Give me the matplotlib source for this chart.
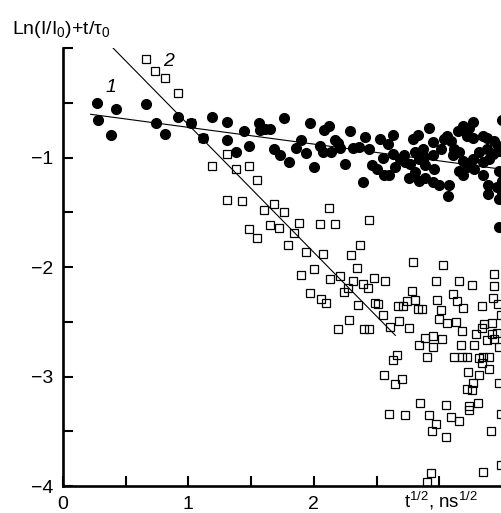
import numpy as np
import matplotlib
matplotlib.use('Agg')
import matplotlib.pyplot as plt

plt.rcParams['font.family'] = ['Liberation Sans', 'DejaVu Sans']
plt.rcParams['mathtext.fontset'] = 'custom'
plt.rcParams['mathtext.rm'] = 'Liberation Sans'
plt.rcParams['mathtext.it'] = 'Liberation Sans:italic'

# series 1: filled circles
x1 = [0.27, 0.42, 0.28, 0.38, 0.66, 0.74, 0.81, 0.92, 1.02, 1.12, 1.19, 1.31, 1.31, 1.44, 1.38, 1.48,
      1.56, 1.57, 1.61, 1.65, 1.76, 1.68, 1.73, 1.80, 1.86, 1.90, 1.94, 1.97, 2.00, 2.08, 2.12, 2.05,
      2.07, 2.14, 2.17, 2.21, 2.19, 2.29, 2.25, 2.31, 2.36, 2.39, 2.41, 2.44, 2.46, 2.50, 2.53, 2.55,
      2.56, 2.60, 2.59, 2.63, 2.63, 2.65, 2.69, 2.73, 2.77, 2.72, 2.79, 2.83, 2.81, 2.84, 2.87, 2.88,
      2.89, 2.92, 2.95, 2.95, 2.96, 2.76, 2.81, 2.84, 2.89, 2.95, 3.00, 3.08, 3.07, 3.01, 3.04, 3.06,
      3.09, 3.12, 3.11, 3.15, 3.19, 3.27, 3.24, 3.22, 3.27, 3.35, 3.38, 3.44, 3.47, 3.50, 3.16, 3.19,
      3.22, 3.16, 3.19, 3.27, 3.32, 3.38, 3.35, 3.40, 3.43, 3.48, 3.28, 3.35, 3.48, 3.50, 3.39, 3.46,
      3.39, 3.48, 3.48, 3.50]
y1 = [-0.50, -0.56, -0.66, -0.79, -0.51, -0.68, -0.78, -0.63, -0.68, -0.82, -0.63, -0.67, -0.84, -0.76,
      -0.95, -0.89, -0.68, -0.75, -0.74, -0.74, -0.64, -0.92, -0.98, -1.04, -0.91, -0.84, -0.96, -0.68,
      -1.09, -0.75, -0.71, -0.89, -0.95, -0.95, -0.84, -0.91, -0.87, -0.76, -1.06, -0.91, -0.90, -1.22,
      -0.81, -0.92, -1.07, -1.10, -0.83, -1.00, -1.16, -1.16, -0.88, -0.79, -0.97, -1.09, -1.01, -1.04,
      -1.06, -0.98, -0.83, -0.79, -0.95, -1.01, -0.92, -0.99, -1.07, -0.73, -0.86, -0.98, -1.10, -1.19,
      -1.13, -1.21, -1.19, -1.22, -1.25, -1.25, -1.35, -0.92, -0.83, -0.80, -0.85, -0.92, -0.98, -0.76,
      -0.71, -0.67, -0.73, -0.80, -0.82, -0.80, -0.82, -0.85, -0.89, -0.66, -0.95, -1.03, -1.09, -1.12,
      -1.16, -1.01, -0.95, -0.92, -1.04, -1.01, -0.97, -0.94, -1.10, -1.16, -1.12, -1.21, -1.25, -1.27,
      -1.33, -1.38, -1.63, -1.31]

# series 2: open squares
x2 = [0.66, 0.73, 0.81, 0.92, 1.02, 1.12, 1.31, 1.19, 1.38, 1.48, 1.55, 1.31, 1.43, 1.68, 1.60, 1.76,
      2.12, 1.48, 1.55, 1.65, 1.72, 1.88, 1.84, 1.79, 1.94, 2.07, 2.05, 2.00, 1.90, 2.13, 1.97, 2.06,
      2.10, 2.17, 2.44, 2.37, 2.30, 2.79, 3.03, 3.44, 2.21, 2.34, 2.31, 2.39, 2.43, 2.48, 2.57, 2.97,
      3.16, 3.26, 3.44, 2.24, 2.27, 2.35, 2.49, 2.51, 2.28, 2.19, 2.40, 2.44, 2.55, 2.61, 2.68, 2.76,
      2.78, 2.67, 2.71, 2.74, 2.81, 2.83, 2.86, 2.98, 3.01, 3.00, 3.11, 3.14, 3.19, 3.06, 3.13, 3.18,
      3.34, 3.43, 3.47, 3.49, 2.89, 2.84, 2.95, 2.95, 3.02, 2.90, 3.17, 3.28, 3.12, 3.18, 3.22, 3.36,
      3.29, 3.34, 3.42, 3.42, 3.46, 3.44, 3.48, 3.32, 3.34, 3.35, 3.40, 3.40, 3.48, 3.23, 3.32, 3.27,
      3.26, 3.22, 2.56, 2.65, 2.70, 2.85, 2.60, 2.73, 3.05, 2.92, 2.97, 2.94, 3.05, 3.09, 3.16, 3.24,
      3.31, 3.24, 3.49, 3.41, 3.35, 3.49, 2.93, 2.90, 2.66, 2.63, 3.38]
y2 = [-0.10, -0.21, -0.27, -0.41, -0.68, -0.82, -0.97, -1.08, -1.10, -1.08, -1.20, -1.39, -1.40, -1.42,
      -1.48, -1.50, -1.46, -1.65, -1.73, -1.62, -1.64, -1.60, -1.69, -1.80, -1.86, -1.88, -1.61, -2.02,
      -2.07, -2.11, -2.24, -2.29, -2.33, -1.61, -1.57, -1.80, -1.89, -1.95, -1.98, -2.06, -2.08, -2.01,
      -2.13, -2.15, -2.19, -2.10, -2.13, -2.13, -2.13, -2.16, -2.17, -2.23, -2.19, -2.35, -2.33, -2.34,
      -2.48, -2.57, -2.57, -2.57, -2.44, -2.55, -2.49, -2.56, -2.22, -2.36, -2.36, -2.31, -2.30, -2.38,
      -2.38, -2.30, -2.39, -2.47, -2.25, -2.31, -2.37, -2.51, -2.50, -2.58, -2.36, -2.28, -2.34, -2.44,
      -2.65, -2.71, -2.63, -2.73, -2.66, -2.82, -2.71, -2.71, -2.82, -2.82, -2.82, -2.52, -2.61, -2.56,
      -2.51, -2.61, -2.60, -2.66, -2.73, -2.83, -2.88, -2.82, -2.82, -2.93, -3.06, -2.96, -2.99, -3.06,
      -3.12, -3.11, -2.99, -3.07, -3.02, -3.24, -3.34, -3.35, -3.26, -3.35, -3.43, -3.50, -3.55, -3.37,
      -3.41, -3.27, -3.24, -3.31, -3.34, -3.50, -3.87, -3.81, -3.88, -3.96, -2.80, -2.85, -2.67]

# fitted lines (end points)
fit1_x = [0.22, 3.50]
fit1_y = [-0.604, -1.106]
fit2_x = [0.40, 2.65]
fit2_y = [0.00, -2.624]

xticks = [0, 0.5, 1, 1.5, 2, 2.5, 3, 3.5]
xticklabels = ['0', '', '1', '', '2', '', '', '']
yticks = [-4, -3.5, -3, -2.5, -2, -1.5, -1, -0.5, 0]
yticklabels = ['\u22124', '', '\u22123', '', '\u22122', '', '\u22121', '', '']

fig = plt.figure(figsize=(5.02, 5.13), dpi=100)
ax = fig.add_axes([0.1255, 0.0526, 0.8745, 0.8535])

ax.plot(x1, y1, 'o', color='black', markersize=7, zorder=2)
ax.plot(x2, y2, 's', markerfacecolor='none', markeredgecolor='black', markersize=6,
        markeredgewidth=0.9, zorder=3)
ax.plot(fit1_x, fit1_y, color='black', linewidth=0.8, zorder=4)
ax.plot(fit2_x, fit2_y, color='black', linewidth=0.8, zorder=4)

ax.text(0.38, -0.36, '1', fontsize=14, fontstyle='italic', ha='center', va='center')
ax.text(0.845, -0.125, '2', fontsize=14, fontstyle='italic', ha='center', va='center')

ax.set_xlim(0, 3.5)
ax.set_ylim(-4, 0)
ax.set_xticks(xticks)
ax.set_xticklabels(xticklabels)
ax.set_yticks(yticks)
ax.set_yticklabels(yticklabels)

for s in ['top', 'right']:
    ax.spines[s].set_visible(False)
for s in ['left', 'bottom']:
    ax.spines[s].set_linewidth(1.9)

ax.tick_params(axis='both', direction='in', length=7, width=1.5, labelsize=14, pad=7)

# x axis label sits where the "3" tick label would be
ax.annotate(r't$^{1/2}$, ns$^{1/2}$', xy=(2.72, 0), xycoords=('data', 'axes fraction'),
            xytext=(0, -21), textcoords='offset pixels', ha='left', va='baseline', fontsize=13.5,
            annotation_clip=False)

fig.text(0.024, 0.962, r'Ln(I/I$_0$)+t/τ$_0$', fontsize=14, ha='left', va='top')

plt.savefig('out.png', dpi=100)
